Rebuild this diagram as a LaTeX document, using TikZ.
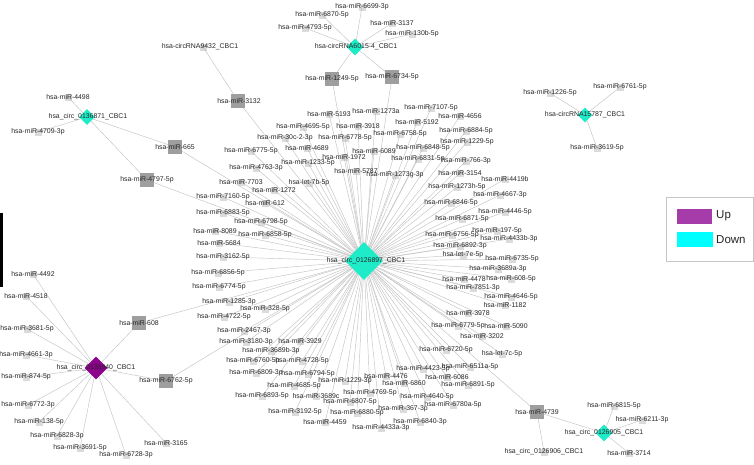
\documentclass[tikz,border=0pt]{standalone}
\usepackage{fontspec}
\setmainfont{Liberation Sans}
\usetikzlibrary{shapes.geometric}
\pgfdeclarelayer{back}
\pgfdeclarelayer{bg}
\pgfsetlayers{back,bg,main}
\definecolor{edgec}{RGB}{196,196,196}
\definecolor{cyanD}{RGB}{30,235,200}
\definecolor{purpD}{RGB}{140,0,140}
\definecolor{sqc}{RGB}{158,158,158}
\definecolor{legP}{RGB}{165,60,170}
\definecolor{legC}{RGB}{0,255,255}
\definecolor{txt}{RGB}{40,40,40}
\tikzset{
  lab/.style={font=\fontsize{6.9}{8}\selectfont, text=txt, inner sep=0pt},
  blob/.style={fill=gray!70, opacity=0.4, minimum size=7pt, inner sep=0pt},
  edge/.style={draw=edgec, line width=0.45pt},
  dmd/.style={diamond, fill=cyanD, inner sep=0pt, minimum width=#1, minimum height=#1},
  pdmd/.style={diamond, fill=purpD, inner sep=0pt, minimum width=#1, minimum height=#1},
  sqn/.style={rectangle, fill=sqc, minimum size=14pt, inner sep=0pt},
  legtxt/.style={font=\fontsize{11.5}{13}\selectfont, text=black!85, inner sep=0pt, anchor=west},
}
\begin{document}
\begin{tikzpicture}[x=1pt,y=-1pt]
\useasboundingbox (0,0) rectangle (754,464);
\begin{pgfonlayer}{back}
\fill[white] (0,0) rectangle (754,464);
\end{pgfonlayer}
% artefact bar
\fill[black] (0,213) rectangle (3,287);

% hub nodes
\node[dmd=38] (c897) at (364,261) {};
\node[dmd=17] (c6015) at (355,47) {};
\node[dmd=16] (c871) at (87,117) {};
\node[dmd=15] (c15787) at (585,115) {};
\node[pdmd=23] (c940) at (96,368) {};
\node[dmd=17] (c905) at (604,433) {};
\node[blob] (c9432) at (203,47) {};
\node[blob] (c906) at (544,452) {};

% grey squares
\node[sqn] (s3132) at (238,101) {};
\node[sqn] (s665) at (175,147) {};
\node[sqn] (s4797) at (147,180) {};
\node[sqn] (s1249) at (332,79) {};
\node[sqn] (s6734) at (392,77) {};
\node[sqn] (s608) at (139,323) {};
\node[sqn] (s6762) at (166,381) {};
\node[sqn] (s4739) at (537,412) {};

\begin{pgfonlayer}{bg}
\foreach \a/\b in {c6015/s1249,c6015/s6734,c9432/s3132,c871/s665,c871/s4797,c940/s608,c940/s6762,c905/s4739,s4739/c906,
  c897/s3132,c897/s665,c897/s4797,c897/s1249,c897/s6734,c897/s608,c897/s6762,c897/s4739}
  \draw[edge] (\a.center) -- (\b.center);
\end{pgfonlayer}

% labels of hubs and squares
\node[lab] (l897) at (366,261) {hsa\_circ\_0126897\_CBC1};
\node[lab] (l6015) at (356,47) {hsa-circRNA6015-4\_CBC1};
\node[lab] (l871) at (88,117) {hsa\_circ\_0136871\_CBC1};
\node[lab] (l15787) at (585,115) {hsa-circRNA15787\_CBC1};
\node[lab] (l940) at (96,368) {hsa\_circ\_0136940\_CBC1};
\node[lab] (l905) at (604,433) {hsa\_circ\_0126905\_CBC1};
\node[lab] (l9432) at (200,47) {hsa-circRNA9432\_CBC1};
\node[lab] (l906) at (544,452) {hsa\_circ\_0126906\_CBC1};
\node[lab] (ls3132) at (239,101) {hsa-miR-3132};
\node[lab] (ls665) at (175,147) {hsa-miR-665};
\node[lab] (ls4797) at (147,180) {hsa-miR-4797-5p};
\node[lab] (ls1249) at (332,79) {hsa-miR-1249-5p};
\node[lab] (ls6734) at (392,77) {hsa-miR-6734-5p};
\node[lab] (ls608) at (139,323) {hsa-miR-608};
\node[lab] (ls6762) at (166,381) {hsa-miR-6762-5p};
\node[lab] (ls4739) at (537,412) {hsa-miR-4739};

% leaves of the small hubs
\foreach \h/\x/\y/\s [count=\i] in {
 c6015/362/7/hsa-miR-6699-3p, c6015/322/15/hsa-miR-6870-5p, c6015/392/23/hsa-miR-3137,
 c6015/305/28/hsa-miR-4793-5p, c6015/412/34/hsa-miR-130b-5p,
 c871/68/97/hsa-miR-4498, c871/38/132/hsa-miR-4709-3p,
 c15787/550/93/hsa-miR-1226-5p, c15787/620/87/hsa-miR-6761-5p, c15787/597/148/hsa-miR-3619-5p,
 c940/33/274/hsa-miR-4492, c940/26/296/hsa-miR-4518, c940/27/329/hsa-miR-3681-5p,
 c940/26/355/hsa-miR-4661-3p, c940/26/377/hsa-miR-874-5p, c940/28/405/hsa-miR-6772-3p,
 c940/39/422/hsa-miR-138-5p, c940/57/436/hsa-miR-6828-3p, c940/80/448/hsa-miR-3691-5p,
 c940/126/455/hsa-miR-6728-3p, c940/166/443/hsa-miR-3165,
 c905/614/406/hsa-miR-6815-5p, c905/642/420/hsa-miR-6211-3p, c905/629/453/hsa-miR-3714}
{
  \node[blob] (bk\i) at (\x,\y) {};
  \node[lab] (k\i) at (\x,\y) {\s};
  \begin{pgfonlayer}{bg}\draw[edge] (\h.center) -- (k\i.center);\end{pgfonlayer}
}

% leaves of the central hub
\foreach \x/\y/\s [count=\i] in {
 329/114/hsa-miR-5193, 376/111/hsa-miR-1273a, 431/108/hsa-miR-7107-5p, 417/122/hsa-miR-5192,
 460/116/hsa-miR-4656, 303/127/hsa-miR-4695-5p, 358/126/hsa-miR-3918, 400/134/hsa-miR-6758-5p,
 466/131/hsa-miR-6884-5p, 285/138/hsa-miR-30c-2-3p, 345/138/hsa-miR-6778-5p, 467/142/hsa-miR-1229-5p,
 251/151/hsa-miR-6775-5p, 307/148/hsa-miR-4689, 374/151/hsa-miR-6089, 423/148/hsa-miR-6848-5p,
 344/157/hsa-miR-1972, 418/159/hsa-miR-6831-5p, 466/161/hsa-miR-766-3p, 256/168/hsa-miR-4763-3p,
 308/163/hsa-miR-1233-5p, 356/171/hsa-miR-5787, 395/175/hsa-miR-1273g-3p, 460/173/hsa-miR-3154,
 241/182/hsa-miR-7703, 309/183/hsa-let-7b-5p, 274/190/hsa-miR-1272, 505/179/hsa-miR-4419b,
 457/187/hsa-miR-1273h-5p,
 223/197/hsa-miR-7160-5p, 265/203/hsa-miR-612, 223/213/hsa-miR-6883-5p, 261/222/hsa-miR-6798-5p,
 215/231/hsa-miR-8089, 265/235/hsa-miR-6858-5p, 219/243/hsa-miR-5684, 223/257/hsa-miR-3162-5p,
 218/273/hsa-miR-6856-5p, 219/287/hsa-miR-6774-5p,
 500/195/hsa-miR-4667-3p, 451/203/hsa-miR-6846-5p, 505/212/hsa-miR-4446-5p, 462/219/hsa-miR-6871-5p,
 497/231/hsa-miR-197-5p, 452/235/hsa-miR-6756-5p, 509/239/hsa-miR-4433b-3p, 460/246/hsa-miR-6892-3p,
 463/255/hsa-let-7e-5p, 512/259/hsa-miR-6735-5p, 498/269/hsa-miR-3689a-3p, 464/279/hsa-miR-4478,
 511/279/hsa-miR-608-5p, 473/288/hsa-miR-7851-3p, 511/297/hsa-miR-4646-5p, 505/305/hsa-miR-1182,
 468/313/hsa-miR-3978, 458/326/hsa-miR-6779-5p, 506/326/hsa-miR-5090, 482/336/hsa-miR-3202,
 446/350/hsa-miR-6720-5p, 502/354/hsa-let-7c-5p, 470/367/hsa-miR-6511a-5p, 423/369/hsa-miR-4423-5p,
 447/377/hsa-miR-6086, 468/385/hsa-miR-6891-5p, 427/397/hsa-miR-4640-5p, 453/405/hsa-miR-6780a-5p,
 420/422/hsa-miR-6840-3p,
 229/302/hsa-miR-1285-3p, 265/309/hsa-miR-328-5p, 224/317/hsa-miR-4722-5p, 244/331/hsa-miR-2467-3p,
 246/342/hsa-miR-3180-3p, 300/341/hsa-miR-3929, 271/351/hsa-miR-3689b-3p, 253/361/hsa-miR-6760-5p,
 302/361/hsa-miR-4728-5p, 256/373/hsa-miR-6809-3p, 308/374/hsa-miR-6794-5p, 386/376/hsa-miR-4476,
 345/381/hsa-miR-1229-3p, 294/386/hsa-miR-4685-5p, 404/383/hsa-miR-6860, 262/396/hsa-miR-6893-5p,
 316/396/hsa-miR-3689c, 370/393/hsa-miR-4769-5p, 350/402/hsa-miR-6807-5p, 295/412/hsa-miR-3192-5p,
 357/413/hsa-miR-6880-5p, 403/409/hsa-miR-367-3p, 325/422/hsa-miR-4459, 381/428/hsa-miR-4433a-3p}
{
  \node[blob] (bm\i) at (\x,\y) {};
  \node[lab] (m\i) at (\x,\y) {\s};
  \begin{pgfonlayer}{bg}\draw[edge] (c897.center) -- (m\i.center);\end{pgfonlayer}
}

% legend
\node[draw=gray!45, line width=0.5pt, fill=white, minimum width=87pt, minimum height=64pt, inner sep=0pt] (legbox) at (709.5,229) {};
\node[fill=legP, minimum width=35pt, minimum height=15pt, inner sep=0pt] (legup) at (694.5,216.5) {};
\node[fill=legC, minimum width=36pt, minimum height=15pt, inner sep=0pt] (legdown) at (695,239.5) {};
\node[legtxt] (legupt) at (716,216) {Up};
\node[legtxt] (legdownt) at (716,240) {Down};
\end{tikzpicture}
\end{document}
